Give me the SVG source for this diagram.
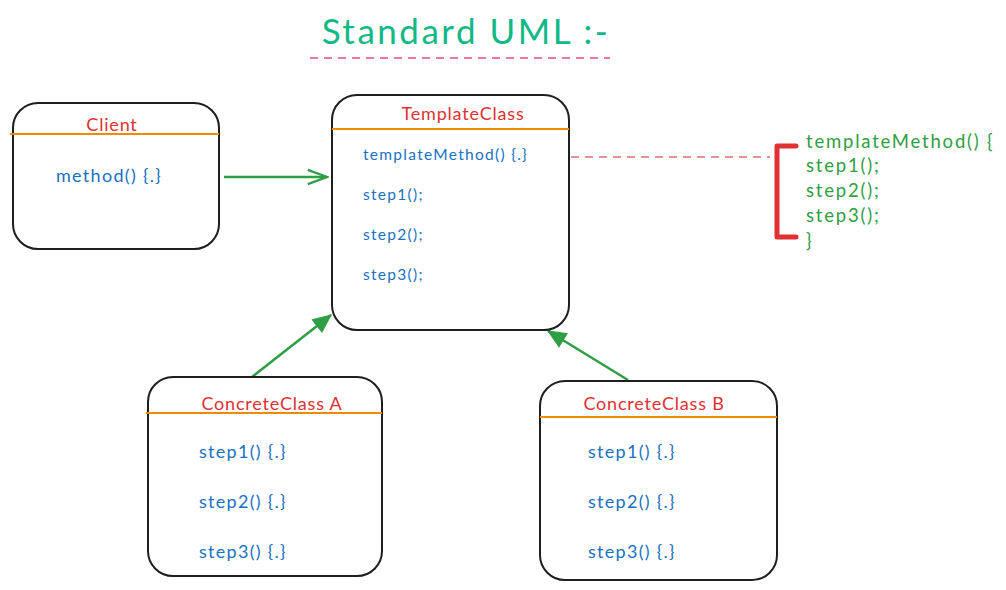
<svg xmlns="http://www.w3.org/2000/svg" width="1006" height="590" viewBox="0 0 1006 590">
<style>
.box{fill:#fff;stroke:#1e1e1e;stroke-width:2}
.sep{stroke:#f08c00;stroke-width:2}
.title{font-family:"Lato","Liberation Sans",sans-serif;fill:#e03131;font-size:18px;letter-spacing:0.8px;text-anchor:middle}
.item{font-family:"Lato","Liberation Sans",sans-serif;fill:#1971c2;font-size:18px;letter-spacing:1.3px}
.small{font-size:15.5px;letter-spacing:1.3px}
.code{font-family:"Lato","Liberation Sans",sans-serif;fill:#2f9e44;font-size:18.5px;letter-spacing:1.8px}
.conn{stroke:#2f9e44;stroke-width:2.5;fill:none}
</style>
<defs>
<marker id="open" viewBox="0 0 20 20" refX="18" refY="10" markerWidth="24" markerHeight="24" markerUnits="userSpaceOnUse" orient="auto">
<path d="M2 4 L18 10 L2 16" fill="none" stroke="#2f9e44" stroke-width="2"/>
</marker>
<marker id="tri" viewBox="0 0 20 20" refX="18" refY="10" markerWidth="22" markerHeight="22" markerUnits="userSpaceOnUse" orient="auto">
<path d="M2 3 L18 10 L2 17 Z" fill="#2f9e44" stroke="#2f9e44" stroke-width="1"/>
</marker>
</defs>
<rect width="1006" height="590" fill="#fff"/>
<g id="heading">
<text x="466" y="44" font-family="Lato,'Liberation Sans',sans-serif" font-size="35" letter-spacing="2.5" fill="#12b886" text-anchor="middle">Standard UML :-</text>
<line x1="310" y1="58" x2="610" y2="58" stroke="#e64980" stroke-width="1.5" stroke-dasharray="8 6"/>
</g>
<g id="connectors">
<line class="conn" x1="224" y1="177" x2="327" y2="177" marker-end="url(#open)"/>
<line class="conn" x1="252" y1="377" x2="331" y2="315" marker-end="url(#tri)"/>
<line class="conn" x1="628" y1="380" x2="548" y2="331" marker-end="url(#tri)"/>
<line x1="571" y1="157" x2="770" y2="157" stroke="#c92a2a" stroke-width="1.2" stroke-dasharray="8 6"/>
</g>
<g id="client">
<rect class="box" x="13" y="103" width="206" height="146" rx="25"/>
<line class="sep" x1="10" y1="134" x2="219" y2="134"/>
<text class="title" x="112" y="131">Client</text>
<text class="item" x="56" y="182">method() {.}</text>
</g>
<g id="templateClass">
<rect class="box" x="332" y="95" width="237" height="235" rx="25"/>
<line class="sep" x1="332" y1="129" x2="569" y2="129"/>
<text class="title" x="463" y="120">TemplateClass</text>
<text class="item small" x="363" y="160">templateMethod() {.}</text>
<text class="item small" x="363" y="200">step1();</text>
<text class="item small" x="363" y="240">step2();</text>
<text class="item small" x="363" y="280">step3();</text>
</g>
<g id="templateNote">
<path d="M796 146 L777 146 L777 237 L796 237" fill="none" stroke="#e03131" stroke-width="5" stroke-linejoin="round" stroke-linecap="round"/>
<text class="code" x="806" y="148">templateMethod() {</text>
<text class="code" x="806" y="172">step1();</text>
<text class="code" x="806" y="197">step2();</text>
<text class="code" x="806" y="222">step3();</text>
<text class="code" x="806" y="247">}</text>
</g>
<g id="concreteA">
<rect class="box" x="148" y="377" width="234" height="199" rx="25"/>
<line class="sep" x1="146" y1="413" x2="382" y2="413"/>
<text class="title" x="272" y="410">ConcreteClass A</text>
<text class="item" x="199" y="458">step1() {.}</text>
<text class="item" x="199" y="508">step2() {.}</text>
<text class="item" x="199" y="558">step3() {.}</text>
</g>
<g id="concreteB">
<rect class="box" x="540" y="381" width="237" height="199" rx="25"/>
<line class="sep" x1="540" y1="417" x2="777" y2="417"/>
<text class="title" x="654" y="410">ConcreteClass B</text>
<text class="item" x="588" y="458">step1() {.}</text>
<text class="item" x="588" y="508">step2() {.}</text>
<text class="item" x="588" y="558">step3() {.}</text>
</g>
</svg>
